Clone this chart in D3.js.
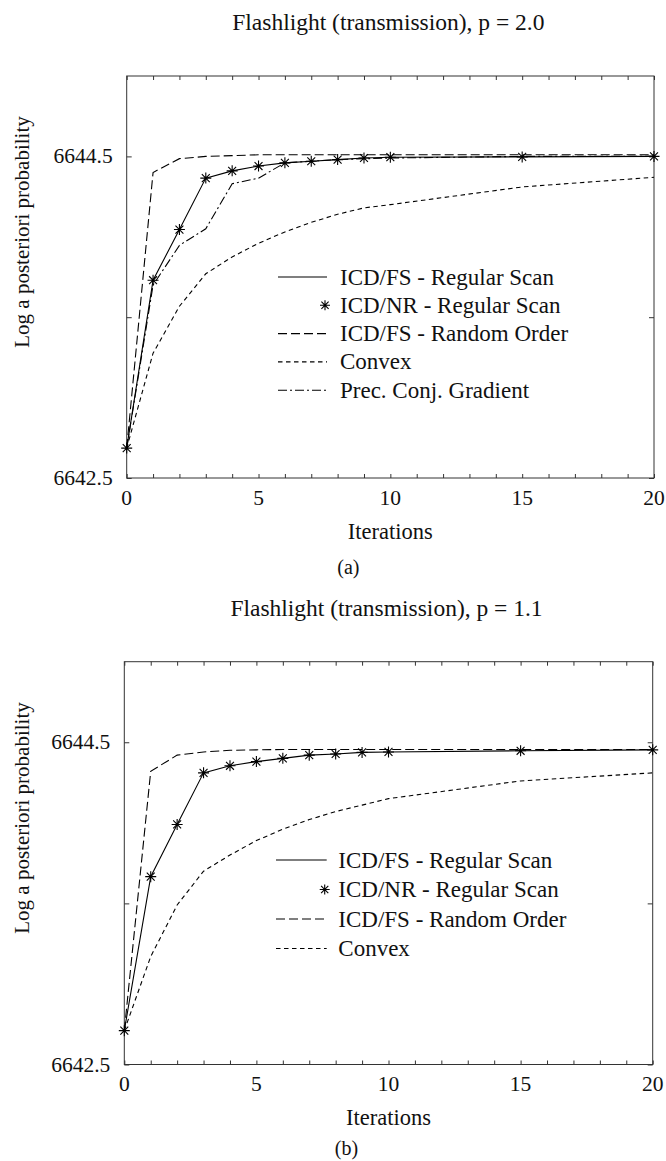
<!DOCTYPE html>
<html>
<head>
<meta charset="utf-8">
<script src="https://cdn.jsdelivr.net/npm/d3@7"></script>
<style>
  body { margin: 0; background: #fff; }
  svg text { font-family: "Liberation Serif", "Tinos", "Times New Roman", Times, "DejaVu Serif", serif; fill: #111; }
</style>
</head>
<body>
<svg id="fig" width="666" height="1161"></svg>
<script>
// Iteration numbers at which each algorithm was sampled
const iterations = [0, 1, 2, 3, 4, 5, 6, 7, 8, 9, 10, 15, 20];

// Panel (a): p = 2.0
const a_icdFsRegular = [6642.686, 6643.73, 6644.045, 6644.365, 6644.41, 6644.44, 6644.46, 6644.47, 6644.48, 6644.49, 6644.495, 6644.497, 6644.50];
const a_icdNrRegular = [6642.686, 6643.73, 6644.045, 6644.365, 6644.41, 6644.44, 6644.46, 6644.47, 6644.48, 6644.49, 6644.495, 6644.497, 6644.50];
const a_icdFsRandom  = [6642.686, 6644.40, 6644.486, 6644.50, 6644.505, 6644.51, 6644.51, 6644.51, 6644.51, 6644.51, 6644.51, 6644.51, 6644.51];
const a_convex       = [6642.686, 6643.276, 6643.568, 6643.77, 6643.875, 6643.96, 6644.03, 6644.09, 6644.14, 6644.18, 6644.20, 6644.31, 6644.37];
const a_pcg          = [6642.686, 6643.70, 6643.947, 6644.05, 6644.33, 6644.365, 6644.46, 6644.47, 6644.48, 6644.485, 6644.49, 6644.50, 6644.50];

// Panel (b): p = 1.1
const b_icdFsRegular = [6642.71, 6643.666, 6643.99, 6644.31, 6644.354, 6644.38, 6644.40, 6644.42, 6644.427, 6644.437, 6644.44, 6644.447, 6644.453];
const b_icdNrRegular = [6642.71, 6643.666, 6643.99, 6644.31, 6644.354, 6644.38, 6644.40, 6644.42, 6644.427, 6644.437, 6644.44, 6644.447, 6644.453];
const b_icdFsRandom  = [6642.71, 6644.32, 6644.42, 6644.44, 6644.45, 6644.453, 6644.455, 6644.455, 6644.455, 6644.455, 6644.455, 6644.455, 6644.455];
const b_convex       = [6642.71, 6643.17, 6643.49, 6643.70, 6643.80, 6643.89, 6643.96, 6644.02, 6644.07, 6644.11, 6644.15, 6644.26, 6644.31];

// Axes
const xDomain = [0, 20];
const yDomain = [6642.5, 6645.0];
const xTickValues = [0, 5, 10, 15, 20];
const xMinorTicks = d3.range(0, 21, 1);
const yTickValues = [6642.5, 6643.5, 6644.5];
const yTickLabels = ["6642.5", "", "6644.5"];

const titles = ["Flashlight (transmission), p = 2.0", "Flashlight (transmission), p = 1.1"];
const captions = ["(a)", "(b)"];
const xLabel = "Iterations";
const yLabel = "Log a posteriori probability";

// Line styles by method
const styles = {
  fsRegular: { dash: null, label: "ICD/FS - Regular Scan" },
  nrRegular: { dash: "none", label: "ICD/NR - Regular Scan", marker: true },
  fsRandom:  { dash: "9,4", label: "ICD/FS - Random Order" },
  convex:    { dash: "4.5,3.5", label: "Convex" },
  pcg:       { dash: "9,3,2,3", label: "Prec. Conj. Gradient" }
};

const panels = [
  {
    box: { left: 126.7, top: 76, right: 654, bottom: 478 },
    titleY: 30, tickLabelY: 505, xLabelY: 539, captionY: 574, yLabelCY: 232,
    legend: { x0: 278, x1: 327, tx: 340, y0: 277, dy: 28.3 },
    series: [
      { key: "fsRegular", values: a_icdFsRegular },
      { key: "nrRegular", values: a_icdNrRegular },
      { key: "fsRandom", values: a_icdFsRandom },
      { key: "convex", values: a_convex },
      { key: "pcg", values: a_pcg }
    ],
    title: titles[0], caption: captions[0]
  },
  {
    box: { left: 124.3, top: 661.7, right: 652.7, bottom: 1064.5 },
    titleY: 616, tickLabelY: 1091, xLabelY: 1125, captionY: 1155, yLabelCY: 818,
    legend: { x0: 276, x1: 326.7, tx: 338.3, y0: 860, dy: 29.5 },
    series: [
      { key: "fsRegular", values: b_icdFsRegular },
      { key: "nrRegular", values: b_icdNrRegular },
      { key: "fsRandom", values: b_icdFsRandom },
      { key: "convex", values: b_convex }
    ],
    title: titles[1], caption: captions[1]
  }
];

const svg = d3.select("#fig");

function asterisk(g, cx, cy, r) {
  const d = r * 0.72;
  const path = `M${cx - r},${cy}L${cx + r},${cy}M${cx},${cy - r}L${cx},${cy + r}` +
               `M${cx - d},${cy - d}L${cx + d},${cy + d}M${cx - d},${cy + d}L${cx + d},${cy - d}`;
  g.append("path").attr("d", path).attr("stroke", "#000").attr("stroke-width", 1.1).attr("fill", "none");
}

panels.forEach(p => {
  const b = p.box;
  const x = d3.scaleLinear().domain(xDomain).range([b.left, b.right]);
  const y = d3.scaleLinear().domain(yDomain).range([b.bottom, b.top]);
  const g = svg.append("g");
  const cx = (b.left + b.right) / 2;

  // Title
  g.append("text").attr("x", cx - 2).attr("y", p.titleY)
    .attr("text-anchor", "middle").attr("font-size", 23.5).text(p.title);

  // Frame
  g.append("rect").attr("x", b.left).attr("y", b.top)
    .attr("width", b.right - b.left).attr("height", b.bottom - b.top)
    .attr("fill", "none").attr("stroke", "#333").attr("stroke-width", 1);

  // Inward ticks on all four sides
  const bottomAxis = d3.axisBottom(x).tickValues(xMinorTicks).tickSize(-4).tickFormat("");
  const topAxis = d3.axisTop(x).tickValues(xMinorTicks).tickSize(-4).tickFormat("");
  const leftAxis = d3.axisLeft(y).tickValues(yTickValues).tickSize(-5).tickFormat("");
  const rightAxis = d3.axisRight(y).tickValues(yTickValues).tickSize(-5).tickFormat("");
  [[bottomAxis, `translate(0,${b.bottom})`], [topAxis, `translate(0,${b.top})`],
   [leftAxis, `translate(${b.left},0)`], [rightAxis, `translate(${b.right},0)`]].forEach(([ax, tr]) => {
    const a = g.append("g").attr("transform", tr).call(ax);
    a.select(".domain").remove();
    a.selectAll("line").attr("stroke", "#333");
  });

  // Tick labels
  g.selectAll(null).data(xTickValues).enter().append("text")
    .attr("x", d => x(d)).attr("y", p.tickLabelY)
    .attr("text-anchor", "middle").attr("font-size", 21.5).text(d => d);
  g.selectAll(null).data(yTickValues).enter().append("text")
    .attr("x", b.left - 14).attr("y", d => y(d) + 7)
    .attr("text-anchor", "end").attr("font-size", 21.5).text((d, i) => yTickLabels[i]);

  // Axis titles and caption
  g.append("text").attr("x", x(10)).attr("y", p.xLabelY)
    .attr("text-anchor", "middle").attr("font-size", 22.5).text(xLabel);
  g.append("text").attr("transform", `translate(29,${p.yLabelCY}) rotate(-90)`)
    .attr("text-anchor", "middle").attr("font-size", 21).text(yLabel);
  g.append("text").attr("x", cx - 42).attr("y", p.captionY)
    .attr("text-anchor", "middle").attr("font-size", 20).text(p.caption);

  // Curves
  const line = d3.line().x((d, i) => x(iterations[i])).y(d => y(d));
  p.series.forEach(s => {
    const st = styles[s.key];
    if (st.marker) {
      s.values.forEach((v, i) => asterisk(g, x(iterations[i]), y(v), 5.5));
    } else {
      g.append("path").datum(s.values).attr("d", line)
        .attr("fill", "none").attr("stroke", "#000").attr("stroke-width", 1.1)
        .attr("stroke-dasharray", st.dash);
    }
  });

  // Legend
  const L = p.legend;
  p.series.forEach((s, i) => {
    const st = styles[s.key];
    const ly = L.y0 + i * L.dy;
    if (st.marker) {
      asterisk(g, L.x1 - 2, ly, 5);
    } else {
      g.append("line").attr("x1", L.x0).attr("x2", L.x1).attr("y1", ly).attr("y2", ly)
        .attr("stroke", "#000").attr("stroke-width", 1.1).attr("stroke-dasharray", st.dash);
    }
    g.append("text").attr("x", L.tx).attr("y", ly + 7.5).attr("font-size", 23).text(st.label);
  });
});
</script>
</body>
</html>
